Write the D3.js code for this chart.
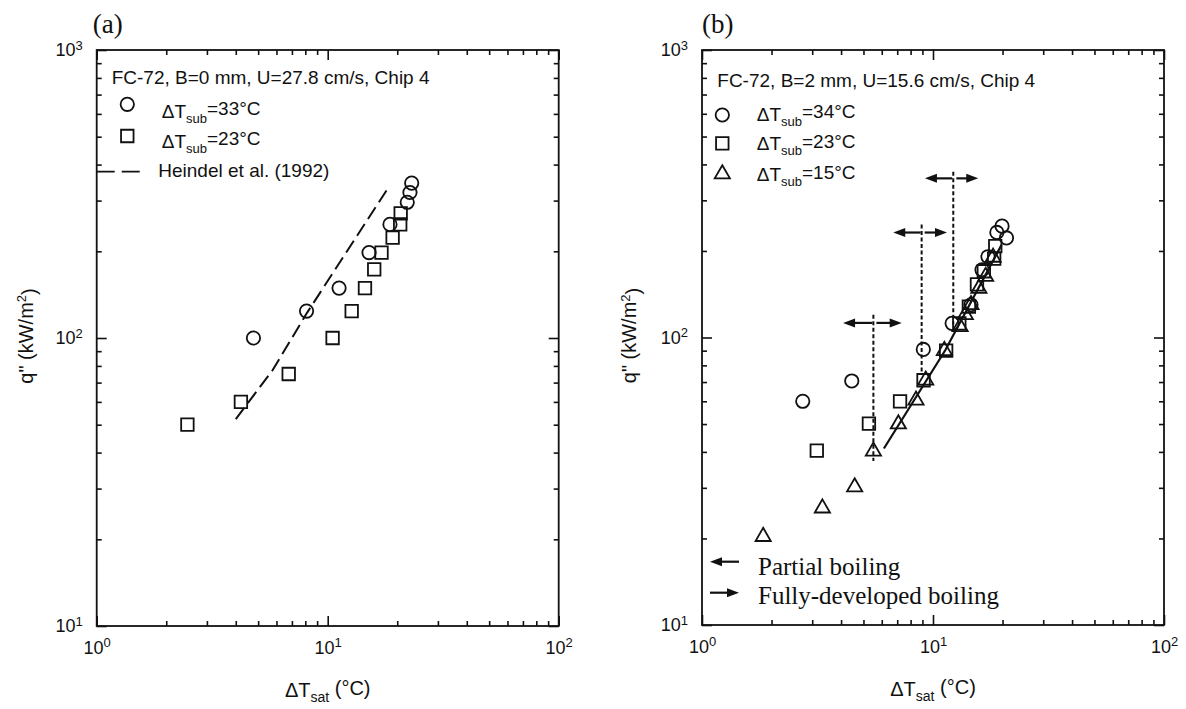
<!DOCTYPE html>
<html>
<head>
<meta charset="utf-8">
<script src="https://cdn.jsdelivr.net/npm/d3@7"></script>
<style>
  body { margin: 0; background: #fff; }
  svg text { font-family: "Liberation Sans", Arial, sans-serif; fill: #111; }
</style>
</head>
<body>
<div id="chart"></div>
<script>
// ---- data: [dT_sat (C), q" (kW/m2)] ----
// panel (a): FC-72, B=0 mm, U=27.8 cm/s
var a_sub33 = [[4.77, 100], [8.1, 124], [11.2, 149], [15.1, 198], [18.6, 248], [22.1, 296], [22.7, 320], [23.1, 345]];
var a_sub23 = [[2.47, 50], [4.21, 60], [6.78, 75], [10.5, 100], [12.7, 124], [14.5, 149], [15.9, 173],
               [17.1, 198], [19.1, 223], [20.6, 248], [20.7, 271]];
var a_heindel = [[4.0, 52.3], [5.78, 77.4], [8.11, 121.8], [18.4, 335]];

// panel (b): FC-72, B=2 mm, U=15.6 cm/s
var b_sub34 = [[2.73, 60], [4.45, 70.6], [9.08, 90.9], [12.1, 112], [14.6, 130], [16.3, 172], [17.3, 191],
               [18.9, 232], [19.9, 244], [20.8, 222]];
var b_sub23 = [[3.14, 40.4], [5.28, 50.2], [7.2, 60], [9.1, 71], [11.4, 90], [13.0, 112], [14.3, 128],
               [15.5, 153], [16.6, 170], [18.4, 188], [18.6, 208]];
var b_sub15 = [[1.84, 20.3], [3.32, 25.5], [4.58, 30.2], [5.52, 40.2], [7.08, 50], [8.44, 60.5], [9.3, 71],
               [11.2, 90], [13.1, 109], [13.8, 120], [14.6, 130], [15.8, 148], [16.9, 163], [18.2, 190]];
var b_fit = [[6.13, 41.1], [11.3, 90.3], [19.8, 210]];

// onset of fully-developed boiling markers in (b)
var onsetX = [5.52, 8.93, 12.24];
var onsetTop = [120, 247, 377];
var onsetBottom = [37.2, 75.6, 111];
var onsetArrowY = [112.4, 231.8, 357.7];
var onsetLeft = [4.08, 6.73, 9.23];
var onsetRight = [7.32, 11.5, 15.7];

var xMajor = [1, 10, 100];
var yMajor = [10, 100, 1000];

// ---- drawing ----
var W = 1186, H = 709, ink = "#111";
var svg = d3.select("#chart").append("svg").attr("width", W).attr("height", H);

var xMinor = [], yMinor = [];
[1, 10].forEach(function (d) { for (var k = 2; k <= 9; k++) xMinor.push(d * k); });
[10, 100].forEach(function (d) { for (var k = 2; k <= 9; k++) yMinor.push(d * k); });

function powLabel(sel) {
  sel.selectAll(".tick text").each(function (d) {
    var t = d3.select(this);
    t.text(null);
    t.append("tspan").text("10");
    t.append("tspan").attr("dy", "-0.5em").attr("font-size", 13).text(Math.round(Math.log10(d)));
  });
}

function styleAxis(sel) {
  sel.select(".domain").remove();
  sel.selectAll(".tick line").attr("stroke", ink).attr("stroke-width", 1.6);
  sel.attr("font-size", 18).attr("font-family", null);
}

function drawPanel(opt) {
  var g = svg.append("g").attr("transform", "translate(" + opt.left + "," + opt.top + ")");
  var x = d3.scaleLog().domain([1, 100]).range([0, opt.width]);
  var y = d3.scaleLog().domain([10, 1000]).range([opt.height, 0]);

  // ticks point inward on all four sides
  g.append("g").attr("transform", "translate(0," + opt.height + ")")
    .call(d3.axisBottom(x).tickValues(xMajor).tickSize(-10).tickPadding(15))
    .call(styleAxis).call(powLabel);
  g.append("g").attr("transform", "translate(0," + opt.height + ")")
    .call(d3.axisBottom(x).tickValues(xMinor).tickSize(-5).tickFormat("")).call(styleAxis);
  g.append("g").call(d3.axisTop(x).tickValues(xMajor).tickSize(-10).tickFormat("")).call(styleAxis);
  g.append("g").call(d3.axisTop(x).tickValues(xMinor).tickSize(-5).tickFormat("")).call(styleAxis);

  g.append("g").call(d3.axisLeft(y).tickValues(yMajor).tickSize(-10).tickPadding(14))
    .call(styleAxis).call(powLabel);
  g.append("g").call(d3.axisLeft(y).tickValues(yMinor).tickSize(-5).tickFormat("")).call(styleAxis);
  g.append("g").attr("transform", "translate(" + opt.width + ",0)")
    .call(d3.axisRight(y).tickValues(yMajor).tickSize(-10).tickFormat("")).call(styleAxis);
  g.append("g").attr("transform", "translate(" + opt.width + ",0)")
    .call(d3.axisRight(y).tickValues(yMinor).tickSize(-5).tickFormat("")).call(styleAxis);

  g.append("rect").attr("width", opt.width).attr("height", opt.height)
    .attr("fill", "none").attr("stroke", ink).attr("stroke-width", 1.8);

  // axis titles
  var xt = g.append("text").attr("x", opt.width / 2).attr("y", opt.height + 71)
    .attr("text-anchor", "middle").attr("font-size", 20);
  xt.append("tspan").text("\u0394T");
  xt.append("tspan").attr("dy", "0.35em").attr("font-size", 14).text("sat");
  xt.append("tspan").attr("dy", "-0.35em").text(" (\u00b0C)");

  var yt = g.append("text").attr("transform", "rotate(-90)")
    .attr("x", -opt.height / 2 + 2).attr("y", opt.ylabelX)
    .attr("text-anchor", "middle").attr("font-size", 20);
  yt.append("tspan").text("q\" (kW/m");
  yt.append("tspan").attr("dy", "-0.5em").attr("font-size", 13).text("2");
  yt.append("tspan").attr("dy", "0.5em").text(")");

  // panel tag
  g.append("text").attr("x", opt.tagX).attr("y", -17)
    .style("font-family", "'Liberation Serif', 'Times New Roman', serif")
    .attr("font-size", 27).text(opt.tag);

  return { g: g, x: x, y: y };
}

var symSize = { circle: 140, square: 156, triangle: 100 };
var symType = { circle: d3.symbolCircle, square: d3.symbolSquare, triangle: d3.symbolTriangle };

function drawMarkers(p, data, kind) {
  p.g.append("g").selectAll("path").data(data).enter().append("path")
    .attr("transform", function (d) { return "translate(" + p.x(d[0]) + "," + p.y(d[1]) + ")"; })
    .attr("d", d3.symbol().type(symType[kind]).size(symSize[kind]))
    .attr("fill", "none").attr("stroke", ink).attr("stroke-width", 1.8);
}

function legendSymbol(g, cx, cy, kind) {
  g.append("path").attr("transform", "translate(" + cx + "," + cy + ")")
    .attr("d", d3.symbol().type(symType[kind]).size(symSize[kind]))
    .attr("fill", "none").attr("stroke", ink).attr("stroke-width", 1.8);
}

function subText(g, tx, ty, value) {
  var t = g.append("text").attr("x", tx).attr("y", ty).attr("font-size", 19);
  t.append("tspan").text("\u0394T");
  t.append("tspan").attr("dy", "0.4em").attr("font-size", 13).text("sub");
  t.append("tspan").attr("dy", "-0.4em").text("=" + value + "\u00b0C");
}

function arrow(g, x0, x1, yy) {
  var dir = x1 > x0 ? 1 : -1, head = 12;
  g.append("line").attr("x1", x0).attr("x2", x1 - dir * head * 0.7)
    .attr("y1", yy).attr("y2", yy).attr("stroke", ink).attr("stroke-width", 2.2);
  g.append("path")
    .attr("d", "M" + x1 + "," + yy + "L" + (x1 - dir * head) + "," + (yy - 4.5) +
               "L" + (x1 - dir * head) + "," + (yy + 4.5) + "Z")
    .attr("fill", ink);
}

// ---------- panel (a) ----------
var pa = drawPanel({ left: 96.7, top: 50, width: 462, height: 576, tag: "(a)", tagX: -4, ylabelX: -64 });

var heindelLine = d3.line().x(function (d) { return pa.x(d[0]); }).y(function (d) { return pa.y(d[1]); });
pa.g.append("path").datum(a_heindel).attr("d", heindelLine)
  .attr("fill", "none").attr("stroke", ink).attr("stroke-width", 2).attr("stroke-dasharray", "14,6");
drawMarkers(pa, a_sub33, "circle");
drawMarkers(pa, a_sub23, "square");

pa.g.append("text").attr("x", 15).attr("y", 34).attr("font-size", 19)
  .text("FC-72, B=0 mm, U=27.8 cm/s, Chip 4");
legendSymbol(pa.g, 30.6, 54.3, "circle");
subText(pa.g, 65, 67.5, 33);
legendSymbol(pa.g, 30.6, 86, "square");
subText(pa.g, 65, 97.5, 23);
pa.g.append("line").attr("x1", 0).attr("x2", 48).attr("y1", 121.7).attr("y2", 121.7)
  .attr("stroke", ink).attr("stroke-width", 1.8).attr("stroke-dasharray", "18,7");
pa.g.append("text").attr("x", 61.6).attr("y", 127).attr("font-size", 19).text("Heindel et al. (1992)");

// ---------- panel (b) ----------
var pb = drawPanel({ left: 702, top: 50, width: 462, height: 575, tag: "(b)", tagX: 0, ylabelX: -66 });

// onset lines with arrows
onsetX.forEach(function (v, i) {
  var xx = pb.x(v);
  pb.g.append("line").attr("x1", xx).attr("x2", xx)
    .attr("y1", pb.y(onsetTop[i])).attr("y2", pb.y(onsetBottom[i]))
    .attr("stroke", ink).attr("stroke-width", 2).attr("stroke-dasharray", "4,2.5");
  var ay = pb.y(onsetArrowY[i]);
  arrow(pb.g, xx - 1, pb.x(onsetLeft[i]), ay);
  arrow(pb.g, xx + 3, pb.x(onsetRight[i]), ay);
});

var fitLine = d3.line().x(function (d) { return pb.x(d[0]); }).y(function (d) { return pb.y(d[1]); });
pb.g.append("path").datum(b_fit).attr("d", fitLine)
  .attr("fill", "none").attr("stroke", ink).attr("stroke-width", 2.2);
drawMarkers(pb, b_sub15, "triangle");
drawMarkers(pb, b_sub23, "square");
drawMarkers(pb, b_sub34, "circle");

pb.g.append("text").attr("x", 15.3).attr("y", 37.3).attr("font-size", 19)
  .text("FC-72, B=2 mm, U=15.6 cm/s, Chip 4");
legendSymbol(pb.g, 20.3, 65, "circle");
subText(pb.g, 54.7, 70.7, 34);
legendSymbol(pb.g, 20.3, 93.3, "square");
subText(pb.g, 54.7, 100, 23);
legendSymbol(pb.g, 20.3, 124, "triangle");
subText(pb.g, 54.7, 131, 15);

// boiling regime key
arrow(pb.g, 37, 8, 511.7);
arrow(pb.g, 8, 37, 542.7);
var serif = "'Liberation Serif', 'Times New Roman', serif";
pb.g.append("text").attr("x", 56).attr("y", 525).attr("font-size", 25)
  .style("font-family", serif).text("Partial boiling");
pb.g.append("text").attr("x", 56).attr("y", 554).attr("font-size", 25)
  .style("font-family", serif).text("Fully-developed boiling");
</script>
</body>
</html>
